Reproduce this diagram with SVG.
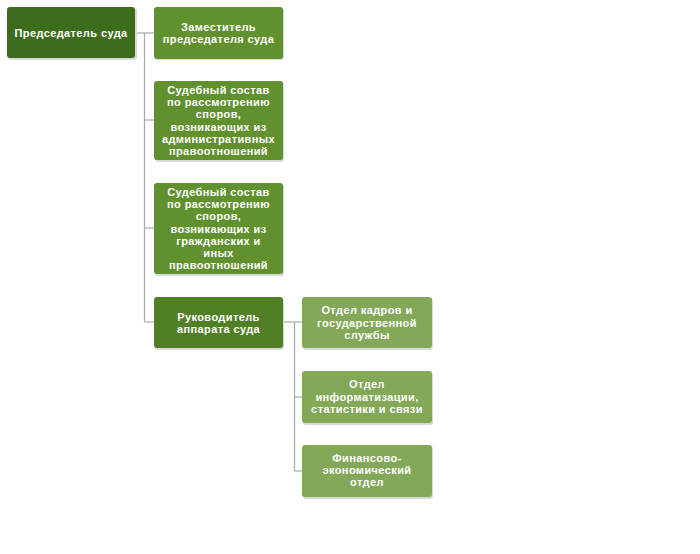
<svg xmlns="http://www.w3.org/2000/svg" width="700" height="554" viewBox="0 0 700 554">
<defs>
<style>
.box{stroke:none}
.root{fill:#3e6c1d}
.l1{fill:#61902e}
.mgr{fill:#507f25}
.l2{fill:#82a858}
.sh{fill:#d9d9d9}
text{font-family:"Liberation Sans",Arial,sans-serif;font-weight:bold;font-size:11px;letter-spacing:0.4px;fill:#ffffff;text-anchor:middle}
.conn line{stroke:#a8a8a8;stroke-width:1.2}
</style>
</defs>
<rect width="700" height="554" fill="#ffffff"/>
<g id="connectors" class="conn">
<line x1="135" y1="33" x2="154" y2="33"/>
<line x1="144.5" y1="33" x2="144.5" y2="322"/>
<line x1="144.5" y1="120" x2="154" y2="120"/>
<line x1="144.5" y1="228" x2="154" y2="228"/>
<line x1="144.5" y1="322" x2="154" y2="322"/>
<line x1="283" y1="322" x2="302" y2="322"/>
<line x1="294.5" y1="322" x2="294.5" y2="471"/>
<line x1="294.5" y1="397" x2="302" y2="397"/>
<line x1="294.5" y1="471" x2="302" y2="471"/>
</g>
<g id="root">
<rect class="sh" x="8" y="8" width="129" height="52" rx="3"/>
<rect class="box root" x="7" y="7" width="128" height="51" rx="3"/>
<text x="71" y="36.5">Председатель суда</text>
</g>
<g id="deputy">
<rect class="sh" x="155" y="8" width="129" height="52" rx="3"/>
<rect class="box l1" x="154" y="7" width="129" height="52" rx="3"/>
<text x="218.5" y="31">Заместитель</text>
<text x="218.5" y="43.3">председателя суда</text>
</g>
<g id="admin">
<rect class="sh" x="155" y="82" width="129" height="80" rx="3"/>
<rect class="box l1" x="154" y="81" width="129" height="79" rx="3"/>
<text x="218.5" y="93.8">Судебный состав</text>
<text x="218.5" y="106.1">по рассмотрению</text>
<text x="218.5" y="118.4">споров,</text>
<text x="218.5" y="130.7">возникающих из</text>
<text x="218.5" y="143">административных</text>
<text x="218.5" y="155.3">правоотношений</text>
</g>
<g id="civil">
<rect class="sh" x="155" y="184" width="129" height="92" rx="3"/>
<rect class="box l1" x="154" y="183" width="129" height="91" rx="3"/>
<text x="218.5" y="195.6">Судебный состав</text>
<text x="218.5" y="207.9">по рассмотрению</text>
<text x="218.5" y="220.2">споров,</text>
<text x="218.5" y="232.5">возникающих из</text>
<text x="218.5" y="244.8">гражданских и</text>
<text x="218.5" y="257.1">иных</text>
<text x="218.5" y="269.4">правоотношений</text>
</g>
<g id="manager">
<rect class="sh" x="155" y="298" width="129" height="52" rx="3"/>
<rect class="box mgr" x="154" y="297" width="129" height="51" rx="3"/>
<text x="218.5" y="320.5">Руководитель</text>
<text x="218.5" y="332.8">аппарата суда</text>
</g>
<g id="hr">
<rect class="sh" x="303" y="298" width="130" height="52" rx="3"/>
<rect class="box l2" x="302" y="297" width="130" height="51" rx="3"/>
<text x="367" y="314.2">Отдел кадров и</text>
<text x="367" y="326.5">государственной</text>
<text x="367" y="338.8">службы</text>
</g>
<g id="it">
<rect class="sh" x="303" y="372" width="130" height="53" rx="3"/>
<rect class="box l2" x="302" y="371" width="130" height="52" rx="3"/>
<text x="367" y="388.2">Отдел</text>
<text x="367" y="400.5">информатизации,</text>
<text x="367" y="412.8">статистики и связи</text>
</g>
<g id="finance">
<rect class="sh" x="303" y="446" width="130" height="53" rx="3"/>
<rect class="box l2" x="302" y="445" width="130" height="52" rx="3"/>
<text x="367" y="461.7">Финансово-</text>
<text x="367" y="474">экономический</text>
<text x="367" y="486.3">отдел</text>
</g>
</svg>
